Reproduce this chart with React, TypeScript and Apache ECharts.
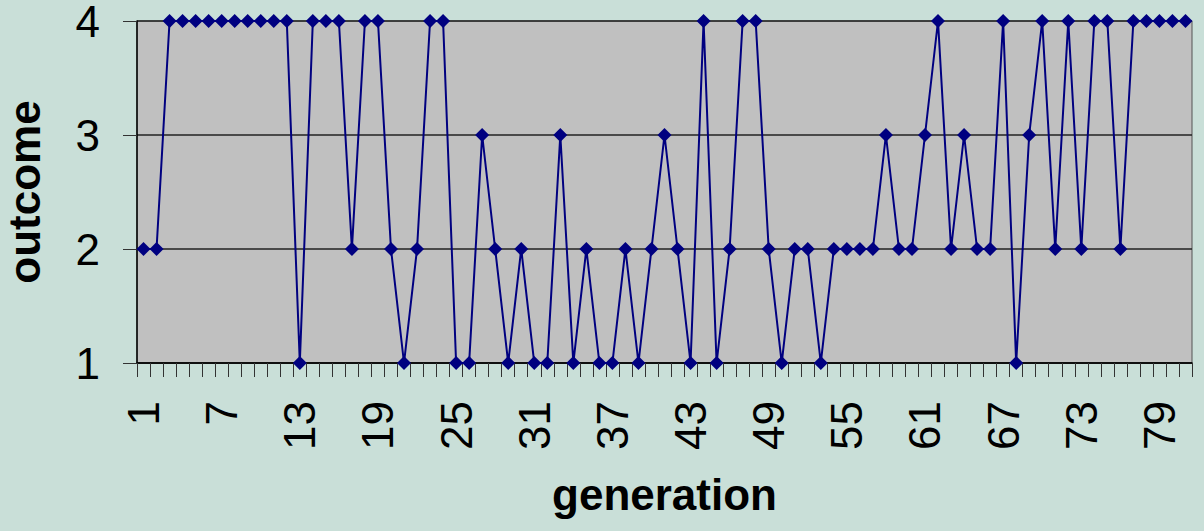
import React, { useEffect, useRef } from "react";
import * as echarts from "echarts";

const generations: string[] = Array.from({ length: 81 }, (_, i) => String(i + 1));

const outcomes: number[] = [
  2, 2, 4, 4, 4, 4, 4, 4, 4, 4,
  4, 4, 1, 4, 4, 4, 2, 4, 4, 2,
  1, 2, 4, 4, 1, 1, 3, 2, 1, 2,
  1, 1, 3, 1, 2, 1, 1, 2, 1, 2,
  3, 2, 1, 4, 1, 2, 4, 4, 2, 1,
  2, 2, 1, 2, 2, 2, 2, 3, 2, 2,
  3, 4, 2, 3, 2, 2, 4, 1, 3, 4,
  2, 4, 2, 4, 4, 2, 4, 4, 4, 4,
  4,
];

const yTicks: number[] = [1, 2, 3, 4];

const xTitle = "generation";
const yTitle = "outcome";

export default function App() {
  const ref = useRef<HTMLDivElement>(null);

  useEffect(() => {
    document.body.style.margin = "0";
    if (!ref.current) return;
    const chart = echarts.init(ref.current, undefined, { renderer: "svg" });
    const font = "'Liberation Sans', Arial, sans-serif";
    chart.setOption({
      animation: false,
      backgroundColor: "#C9DFD8",
      grid: {
        left: 137,
        right: 12,
        top: 21,
        bottom: 168,
        containLabel: false,
        outerBoundsMode: "none",
        show: true,
        backgroundColor: "#C0C0C0",
        borderColor: "#555555",
        borderWidth: 1,
      },
      xAxis: {
        type: "category",
        data: generations,
        boundaryGap: true,
        name: xTitle,
        nameLocation: "middle",
        nameGap: 109,
        nameTextStyle: {
          fontFamily: font,
          fontSize: 44,
          fontWeight: "bold",
          color: "#000",
        },
        axisLine: { show: true, lineStyle: { color: "#000", width: 1.5 } },
        axisTick: {
          show: true,
          interval: 0,
          length: 14,
          lineStyle: { color: "#333", width: 1 },
        },
        axisLabel: {
          interval: 5,
          rotate: 90,
          margin: 38,
          fontFamily: font,
          fontSize: 44,
          color: "#000",
        },
        splitLine: { show: false },
      },
      yAxis: {
        type: "value",
        min: yTicks[0],
        max: yTicks[yTicks.length - 1],
        interval: 1,
        name: yTitle,
        nameLocation: "middle",
        nameRotate: 90,
        nameGap: 91,
        nameTextStyle: {
          fontFamily: font,
          fontSize: 44,
          fontWeight: "bold",
          color: "#000",
        },
        axisLine: { show: true, lineStyle: { color: "#000", width: 1.5 } },
        axisTick: {
          show: true,
          length: 14,
          lineStyle: { color: "#333", width: 1 },
        },
        axisLabel: {
          margin: 37,
          fontFamily: font,
          fontSize: 44,
          color: "#000",
        },
        splitLine: { show: true, lineStyle: { color: "#222", width: 1.5 } },
      },
      series: [
        {
          type: "line",
          data: outcomes,
          symbol: "diamond",
          symbolSize: 14,
          showAllSymbol: true,
          lineStyle: { color: "#000080", width: 2 },
          itemStyle: { color: "#000080" },
        },
      ],
    });
    return () => chart.dispose();
  }, []);

  return <div ref={ref} style={{ width: 1204, height: 531 }} />;
}
